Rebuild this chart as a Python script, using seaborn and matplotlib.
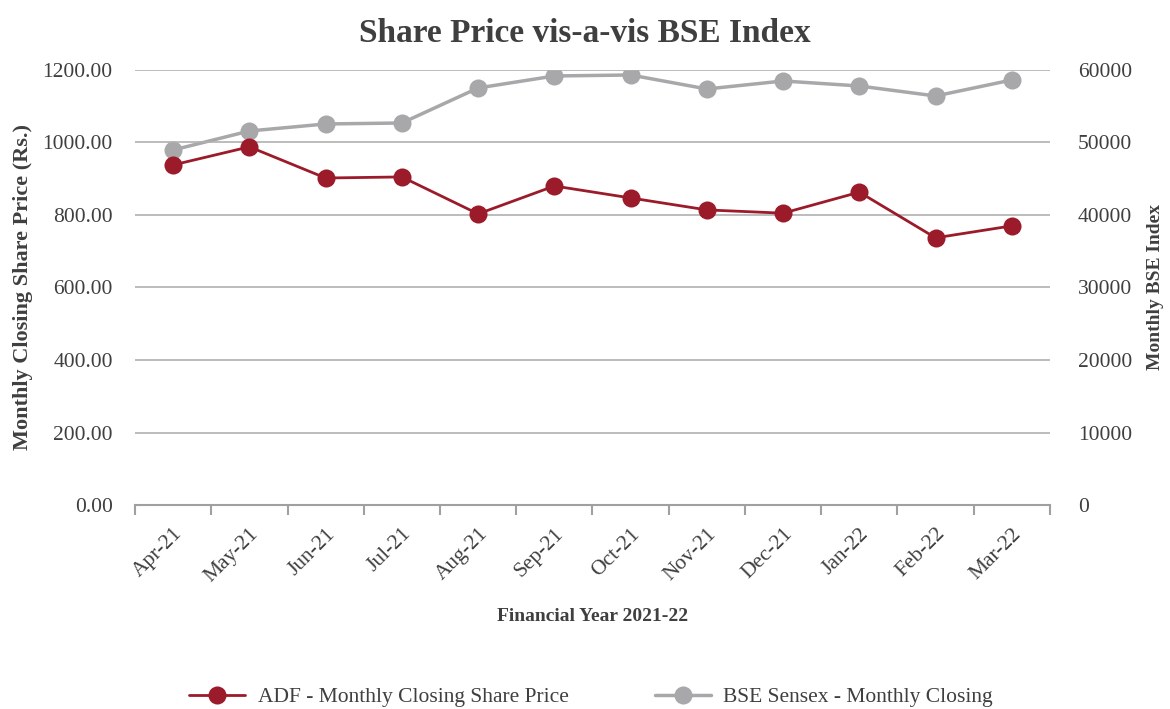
import pandas as pd
import matplotlib
matplotlib.use("Agg")
import matplotlib.pyplot as plt
import seaborn as sns
from matplotlib.ticker import FixedLocator

months = ["Apr-21", "May-21", "Jun-21", "Jul-21", "Aug-21", "Sep-21",
          "Oct-21", "Nov-21", "Dec-21", "Jan-22", "Feb-22", "Mar-22"]
adf_price = [938, 988, 902, 905, 803, 880, 847, 814, 805, 863, 737, 770]
bse_close = [48966, 51586, 52552, 52690, 57517, 59172,
             59310, 57379, 58483, 57793, 56414, 58621]

RED = "#9b1b2a"
GREY = "#a8a8ab"
TXT = "#3f3f3f"

sns.set_theme(style="white")
plt.rcParams["font.family"] = ["Liberation Serif", "DejaVu Serif"]

df = pd.DataFrame({"month": months, "adf": adf_price, "bse": bse_close})
df["pos"] = range(len(months))

fig = plt.figure(figsize=(11.7, 7.09), dpi=100)
ax = fig.add_axes([0.1154, 0.2877, 0.782, 0.6136])
ax2 = ax.twinx()

sns.lineplot(data=df, x="pos", y="adf", ax=ax, color=RED, lw=2,
             marker="o", markersize=13, markeredgewidth=0, zorder=5,
             label="ADF - Monthly Closing Share Price", legend=False)
sns.lineplot(data=df, x="pos", y="bse", ax=ax2, color=GREY, lw=2.5,
             marker="o", markersize=13, markeredgewidth=0,
             label="BSE Sensex - Monthly Closing", legend=False)
ax.set_zorder(ax2.get_zorder() + 1)
ax.patch.set_visible(False)

ax.set_xlim(-0.5, len(months) - 0.5)
ax.set_ylim(0, 1200)
ax2.set_ylim(0, 60000)
ax.set_yticks(range(0, 1201, 200))
ax.set_yticklabels([f"{v:.2f}" for v in range(0, 1201, 200)])
ax2.set_yticks(range(0, 60001, 10000))
ax.yaxis.grid(True, color="#b0b0b0", lw=1.2)
ax.set_axisbelow(True)

ax.set_xticks(df["pos"])
ax.set_xticklabels(months, rotation=45, ha="right", rotation_mode="anchor")
ax.xaxis.set_minor_locator(FixedLocator([i - 0.5 for i in range(len(months) + 1)]))
ax.tick_params(axis="x", which="major", length=0, pad=14, labelsize=15.5, labelcolor=TXT)
ax.tick_params(axis="x", which="minor", length=7, width=1.5, color="#a0a0a0", bottom=True)
ax.tick_params(axis="y", length=0, labelsize=15.5, labelcolor=TXT, pad=16)
ax2.tick_params(axis="y", length=0, labelsize=15.5, labelcolor=TXT, pad=20)

for a in (ax, ax2):
    for s in a.spines.values():
        s.set_visible(False)
ax.spines["bottom"].set_visible(True)
ax.spines["bottom"].set_color("#a0a0a0")
ax.spines["bottom"].set_linewidth(1.5)

ax.set_xlabel("Financial Year 2021-22", fontsize=14, fontweight="bold", color=TXT, labelpad=16)
ax.set_ylabel("Monthly Closing Share Price (Rs.)", fontsize=16, fontweight="bold", color=TXT)
ax.yaxis.set_label_coords(-0.112, 0.5)
ax2.set_ylabel("Monthly BSE Index", fontsize=14, fontweight="bold", color=TXT)
ax2.yaxis.set_label_coords(1.106, 0.5)
fig.suptitle("Share Price vis-a-vis BSE Index", fontsize=24, fontweight="bold", color=TXT, y=0.975)

h1, l1 = ax.get_legend_handles_labels()
h2, l2 = ax2.get_legend_handles_labels()
fig.legend(h1 + h2, l1 + l2, loc="lower center", bbox_to_anchor=(0.505, -0.025), ncol=2,
           frameon=False, fontsize=15.5, columnspacing=4, handlelength=2.6,
           handletextpad=0.6, labelcolor=TXT)

fig.savefig("out.png", dpi=100)
